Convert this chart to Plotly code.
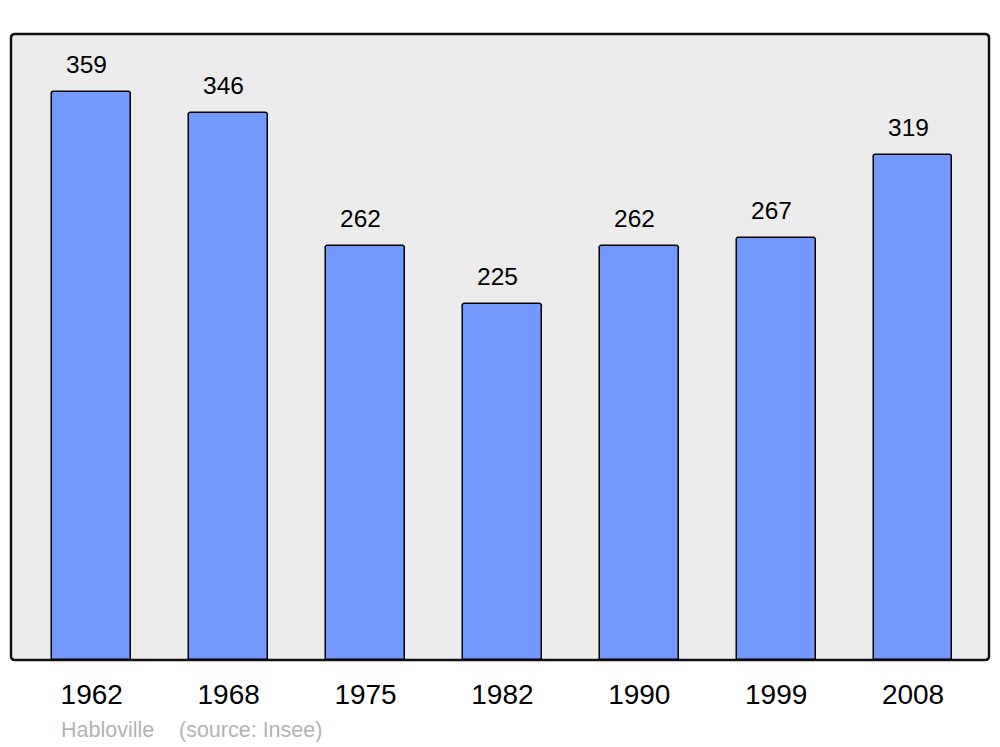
import plotly.graph_objects as go

years = ["1962", "1968", "1975", "1982", "1990", "1999", "2008"]
population = [359, 346, 262, 225, 262, 267, 319]
source_town = "Habloville"
source_note = "(source: Insee)"

W, H = 1000, 747
L, R, T, B = 11, 11, 34, 87
pw, ph = W - L - R, H - T - B

idx = list(range(len(years)))

fig = go.Figure()
fig.add_trace(go.Bar(
    x=idx, y=population,
    width=0.575,
    marker=dict(color="#7399ff", line=dict(color="#000000", width=1.5), cornerradius=3),
    hovertext=years, hoverinfo="text+y",
))

for i, v in zip(idx, population):
    fig.add_annotation(x=i, y=v, text=str(v), showarrow=False, yanchor="bottom",
                       xshift=-5, yshift=12,
                       font=dict(family="Liberation Sans, Arial, sans-serif", size=24.5, color="#000000"))

fig.add_annotation(xref="paper", yref="paper", x=(59 - L) / pw, y=-(730 - T - ph) / ph,
                   xanchor="left", yanchor="middle", text=source_town, showarrow=False,
                   font=dict(family="Liberation Sans, Arial, sans-serif", size=21.5, color="#b3b3b3"))
fig.add_annotation(xref="paper", yref="paper", x=(177 - L) / pw, y=-(730 - T - ph) / ph,
                   xanchor="left", yanchor="middle", text=source_note, showarrow=False,
                   font=dict(family="Liberation Sans, Arial, sans-serif", size=21.5, color="#b3b3b3"))

# rounded frame around the plot area
rx, ry = 4 / pw, 4 / ph
path = (f"M {rx},0 L {1-rx},0 Q 1,0 1,{ry} L 1,{1-ry} Q 1,1 {1-rx},1 "
        f"L {rx},1 Q 0,1 0,{1-ry} L 0,{ry} Q 0,0 {rx},0 Z")
fig.add_shape(type="path", xref="paper", yref="paper", path=path,
              line=dict(color="#111111", width=2.5), fillcolor="#ececec", layer="below")

fig.update_layout(
    width=W, height=H,
    margin=dict(l=L, r=R, t=T, b=B),
    paper_bgcolor="#ffffff", plot_bgcolor="rgba(0,0,0,0)",
    showlegend=False, bargap=0,
    font=dict(family="Liberation Sans, Arial, sans-serif"),
)
fig.update_xaxes(range=[-0.59, 6.555], tickmode="array", tickvals=idx, ticktext=years,
                 showgrid=False, zeroline=False,
                 showline=False, ticks="outside", ticklen=9, tickcolor="rgba(0,0,0,0)",
                 tickfont=dict(size=28, color="#000000"), fixedrange=True)
fig.update_yaxes(range=[0, 395.7], showgrid=False, zeroline=False, showline=False,
                 showticklabels=False, fixedrange=True)

fig.write_html("out.html", config={"displayModeBar": False},
               post_script="document.body.style.margin='0px';document.body.style.overflow='hidden';")
